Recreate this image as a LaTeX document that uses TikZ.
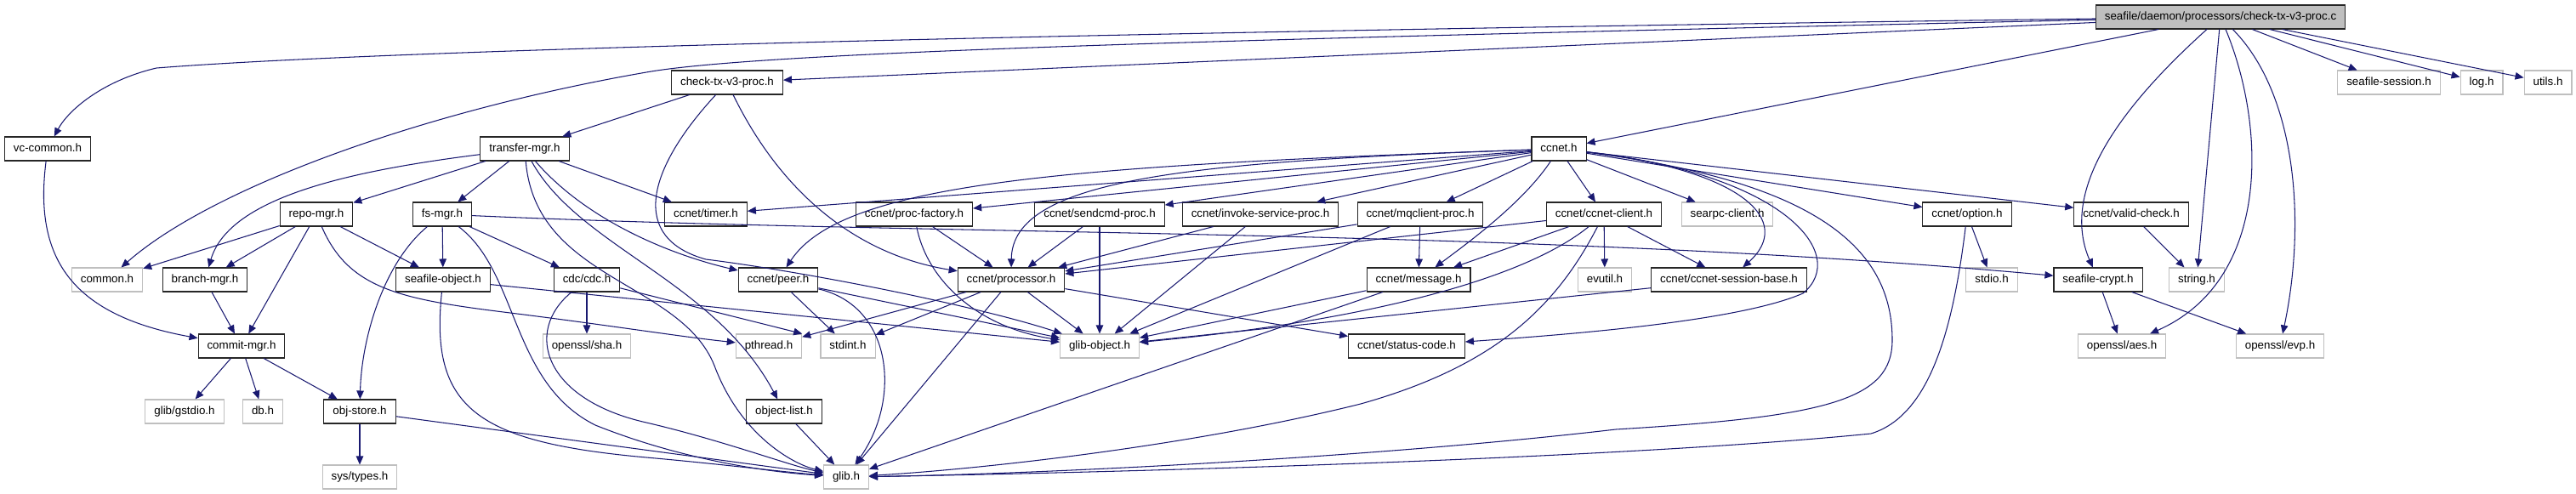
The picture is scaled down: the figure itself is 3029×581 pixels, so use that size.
\documentclass[tikz,border=0pt]{standalone}
\usepackage{fontspec}
\setmainfont{Liberation Sans}
\usetikzlibrary{arrows.meta}
\definecolor{edgeblue}{RGB}{25,25,112}
\definecolor{boxgray}{RGB}{191,191,191}

\begin{document}
\begin{tikzpicture}[x=0.02cm, y=-0.02cm, font=\fontsize{7.6}{9}\selectfont,
	hdr/.style={draw=black!85, line width=0.6pt, fill=white, inner xsep=2.1mm, inner ysep=0pt,
		minimum height=5.6mm, text height=1.9mm, text depth=0.6mm},
	sys/.style={hdr, draw=boxgray},
	inc/.style={edgeblue, line width=0.6pt, -{Triangle[length=2mm,width=1.7mm]}}]
		\useasboundingbox (0,0) rectangle (3029,581);
		% корень
		\node[hdr, fill=boxgray] (root) at (2611,20) {seafile/daemon/processors/check-tx-v3-proc.c};
		% ряд 2
		\node[hdr] (chk) at (855,97) {check-tx-v3-proc.h};
		\node[sys] (seasess) at (2809,97) {seafile-session.h};
		\node[sys] (logh) at (2918,97) {log.h};
		\node[sys] (utils) at (2996,97) {utils.h};
		% ряд 3
		\node[hdr] (vccommon) at (56,175) {vc-common.h};
		\node[hdr] (transfer) at (617,175) {transfer-mgr.h};
		\node[hdr] (ccnet) at (1833,175) {ccnet.h};
		% ряд 4
		\node[hdr] (repomgr) at (372,252) {repo-mgr.h};
		\node[hdr] (fsmgr) at (520,252) {fs-mgr.h};
		\node[hdr] (timer) at (830,252) {ccnet/timer.h};
		\node[hdr] (procfac) at (1075,252) {ccnet/proc-factory.h};
		\node[hdr] (sendcmd) at (1293,252) {ccnet/sendcmd-proc.h};
		\node[hdr] (invoke) at (1482,252) {ccnet/invoke-service-proc.h};
		\node[hdr] (mqclient) at (1670,252) {ccnet/mqclient-proc.h};
		\node[hdr] (client) at (1886,252) {ccnet/ccnet-client.h};
		\node[sys] (searpc) at (2031,252) {searpc-client.h};
		\node[hdr] (option) at (2313,252) {ccnet/option.h};
		\node[hdr] (valid) at (2506,252) {ccnet/valid-check.h};
		% ряд 5
		\node[sys] (common) at (126,329) {common.h};
		\node[hdr] (branch) at (241,329) {branch-mgr.h};
		\node[hdr] (seafobj) at (521,329) {seafile-object.h};
		\node[hdr] (cdc) at (690,329) {cdc/cdc.h};
		\node[hdr] (peer) at (915,329) {ccnet/peer.h};
		\node[hdr] (processor) at (1189,329) {ccnet/processor.h};
		\node[hdr] (message) at (1668,329) {ccnet/message.h};
		\node[sys] (evutil) at (1887,329) {evutil.h};
		\node[hdr] (sessbase) at (2033,329) {ccnet/ccnet-session-base.h};
		\node[sys] (stdio) at (2342,329) {stdio.h};
		\node[hdr] (crypt) at (2467,329) {seafile-crypt.h};
		\node[sys] (stringh) at (2583,329) {string.h};
		% ряд 6
		\node[hdr] (commit) at (284,407) {commit-mgr.h};
		\node[sys] (sha) at (690,407) {openssl/sha.h};
		\node[sys] (pthread) at (904,407) {pthread.h};
		\node[sys] (stdint) at (997,407) {stdint.h};
		\node[sys] (gobject) at (1293,407) {glib-object.h};
		\node[hdr] (status) at (1654,407) {ccnet/status-code.h};
		\node[sys] (aes) at (2495,407) {openssl/aes.h};
		\node[sys] (evp) at (2681,407) {openssl/evp.h};
		% ряд 7
		\node[sys] (gstdio) at (217,484) {glib/gstdio.h};
		\node[sys] (db) at (309,484) {db.h};
		\node[hdr] (objstore) at (423,484) {obj-store.h};
		\node[hdr] (objlist) at (922,484) {object-list.h};
		% ряд 8
		\node[sys] (systypes) at (423,561) {sys/types.h};
		\node[sys] (glib) at (995,561) {glib.h};
		% прямые связи
		\foreach \src/\dst in {root/chk, root/ccnet, root/seasess, root/logh, root/utils, root/stringh,
			chk/transfer, transfer/repomgr, transfer/fsmgr, transfer/timer,
			repomgr/common, repomgr/branch, repomgr/commit, repomgr/seafobj,
			fsmgr/seafobj, fsmgr/cdc, branch/commit,
			commit/gstdio, commit/db, commit/objstore, objstore/systypes, objstore/glib,
			seafobj/gobject, cdc/sha, objlist/glib, peer/stdint, peer/gobject,
			processor/pthread, processor/stdint, processor/glib, processor/gobject, processor/status,
			procfac/processor, sendcmd/processor, sendcmd/gobject, invoke/processor, invoke/gobject,
			mqclient/processor, mqclient/message, mqclient/gobject,
			client/processor, client/message, client/evutil, client/sessbase,
			message/gobject, message/glib, sessbase/gobject,
			ccnet/timer, ccnet/procfac, ccnet/sendcmd, ccnet/invoke, ccnet/mqclient,
			ccnet/client, ccnet/searpc, ccnet/option, ccnet/valid,
			option/stdio, valid/stringh, crypt/aes, crypt/evp}{
			\draw[inc] (\src) -- (\dst);
		}
		\draw[inc] (cdc) -- (pthread.north east);
		% изогнутые связи от корня
		\draw[inc] (root) .. controls (1500,35) and (500,55) .. (184,80) .. controls (120,95) and (80,130) .. (vccommon);
		\draw[inc] (root) .. controls (1500,45) and (900,60) .. (760,85) .. controls (500,130) and (250,220) .. (common);
		\draw[inc] (root) .. controls (2500,120) and (2420,220) .. (crypt);
		\draw[inc] (root) .. controls (2665,150) and (2670,330) .. (aes);
		\draw[inc] (root) .. controls (2700,110) and (2712,260) .. (evp);
		% check-tx-v3-proc.h, transfer-mgr.h
		\draw[inc] (chk) .. controls (760,200) and (740,280) .. (830,305) .. controls (950,320) and (1150,360) .. (gobject);
		\draw[inc] (chk) .. controls (920,230) and (1010,300) .. (processor);
		\draw[inc] (transfer) .. controls (420,200) and (270,230) .. (branch);
		\draw[inc] (transfer) .. controls (690,260) and (790,300) .. (peer);
		\draw[inc] (transfer) .. controls (680,290) and (840,330) .. (objlist);
		\draw[inc] (transfer) .. controls (630,330) and (800,330) .. (840,430) .. controls (870,510) and (930,545) .. (glib);
		% repo-mgr.h, fs-mgr.h и ниже
		\draw[inc] (repomgr) .. controls (410,340) and (470,352) .. (600,368) .. controls (720,383) and (800,396) .. (pthread);
		\draw[inc] (fsmgr) .. controls (450,310) and (425,400) .. (objstore);
		\draw[inc] (fsmgr) .. controls (610,320) and (600,450) .. (700,500) .. controls (800,540) and (900,555) .. (glib);
		\draw[inc] (fsmgr) .. controls (1100,278) and (1800,268) .. (crypt);
		\draw[inc] (seafobj) .. controls (505,480) and (560,520) .. (760,538) .. controls (850,546) and (920,555) .. (glib);
		\draw[inc] (cdc) .. controls (615,390) and (640,470) .. (760,497) .. controls (850,518) and (930,548) .. (glib);
		\draw[inc] (vccommon) .. controls (40,300) and (80,370) .. (commit);
		\draw[inc] (peer) .. controls (1050,360) and (1060,470) .. (glib);
		\draw[inc] (procfac) .. controls (1090,330) and (1150,385) .. (gobject);
		\draw[inc] (client) .. controls (1790,330) and (1600,378) .. (gobject);
		\draw[inc] (client) .. controls (1830,360) and (1760,430) .. (1600,475) .. controls (1400,525) and (1150,552) .. (glib);
		\draw[inc] (option) .. controls (2295,400) and (2265,490) .. (2200,510) .. controls (1900,540) and (1300,556) .. (glib);
		% ccnet.h
		\draw[inc] (ccnet) .. controls (1250,195) and (990,215) .. (peer);
		\draw[inc] (ccnet) .. controls (1400,190) and (1190,210) .. (processor);
		\draw[inc] (ccnet) .. controls (1790,240) and (1720,290) .. (message);
		\draw[inc] (ccnet) .. controls (2050,200) and (2110,260) .. (sessbase);
		\draw[inc] (ccnet) .. controls (2100,205) and (2175,300) .. (2120,345) .. controls (2040,380) and (1820,395) .. (status);
		\draw[inc] (ccnet) .. controls (2150,215) and (2225,300) .. (2225,400) .. controls (2225,470) and (2150,490) .. (1900,505) .. controls (1600,540) and (1200,558) .. (glib);
	\end{tikzpicture}
\end{document}
